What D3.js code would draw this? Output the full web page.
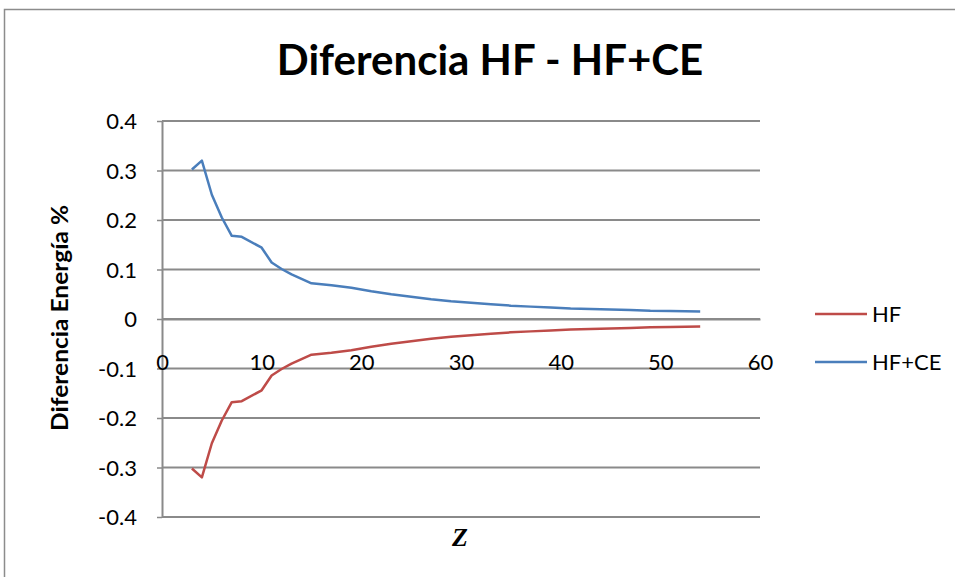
<!DOCTYPE html>
<html>
<head>
<meta charset="utf-8">
<script src="https://cdn.jsdelivr.net/npm/d3@7"></script>
<style>
  body { margin: 0; background: #fff; }
  svg { display: block; }
</style>
</head>
<body>
<div id="chart"></div>
<script>
// Atomic number Z for each point
const zValues = [3, 4, 5, 6, 7, 8, 10, 11, 12, 13, 15, 17, 19, 21, 23, 25, 27, 29, 31, 33, 35, 37, 39, 41, 43, 45, 47, 49, 51, 54];

// Energy difference (%) per series
const hfValues = [-0.302, -0.320, -0.251, -0.205, -0.168, -0.166, -0.144, -0.114, -0.101, -0.090, -0.072, -0.068, -0.063, -0.056, -0.050, -0.045, -0.040, -0.036, -0.033, -0.030, -0.027, -0.025, -0.023, -0.021, -0.020, -0.019, -0.018, -0.0165, -0.016, -0.015];
const hfceValues = [0.302, 0.320, 0.251, 0.205, 0.168, 0.166, 0.144, 0.114, 0.101, 0.090, 0.072, 0.068, 0.063, 0.056, 0.050, 0.045, 0.040, 0.036, 0.033, 0.030, 0.027, 0.025, 0.023, 0.021, 0.020, 0.019, 0.018, 0.0165, 0.016, 0.015];

const seriesNames = ["HF", "HF+CE"];
const seriesColors = ["#be4b48", "#4a7ebb"];
const xTicks = [0, 10, 20, 30, 40, 50, 60];
const yTicks = [0.4, 0.3, 0.2, 0.1, 0, -0.1, -0.2, -0.3, -0.4];
const yTickLabels = ["0.4", "0.3", "0.2", "0.1", "0", "-0.1", "-0.2", "-0.3", "-0.4"];

const width = 955, height = 577;
const plot = { left: 162, right: 760, top: 121, bottom: 517 };
const font = "Lato, 'Open Sans', sans-serif";

const svg = d3.select("#chart").append("svg")
  .attr("width", width)
  .attr("height", height);

// Outer chart border (runs off the right/bottom edges)
svg.append("rect")
  .attr("x", 4.5).attr("y", 9.5)
  .attr("width", 970).attr("height", 600)
  .attr("fill", "none")
  .attr("stroke", "#8c8c8c")
  .attr("stroke-width", 1.5);

const x = d3.scaleLinear().domain([0, 60]).range([plot.left, plot.right]);
const y = d3.scaleLinear().domain([-0.4, 0.4]).range([plot.bottom, plot.top]);

// Title
svg.append("text")
  .attr("x", 490)
  .attr("y", 75)
  .attr("text-anchor", "middle")
  .style("font-family", font)
  .style("font-weight", "bold")
  .style("font-size", "42px")
  .text("Diferencia HF - HF+CE");

// Horizontal gridlines
svg.append("g")
  .selectAll("line")
  .data(yTicks)
  .join("line")
  .attr("x1", plot.left).attr("x2", plot.right)
  .attr("y1", d => y(d)).attr("y2", d => y(d))
  .attr("stroke", "#8a8a8a")
  .attr("stroke-width", 2);

// Y axis
const yAxis = svg.append("g")
  .attr("transform", `translate(${plot.left},0)`)
  .call(d3.axisLeft(y).tickValues(yTicks).tickSize(5).tickSizeOuter(0)
    .tickFormat((d, i) => yTickLabels[i]));
yAxis.select(".domain").attr("stroke", "#8a8a8a").attr("stroke-width", 2);
yAxis.selectAll(".tick line").attr("stroke", "#8a8a8a").attr("stroke-width", 1.5);
yAxis.selectAll(".tick text")
  .attr("x", -25)
  .attr("dy", "0.35em")
  .style("font-family", font)
  .style("font-size", "22px")
  .attr("fill", "#000");

// X axis crossing at 0
const xAxis = svg.append("g")
  .attr("transform", `translate(0,${y(0)})`)
  .call(d3.axisBottom(x).tickValues(xTicks).tickSize(0).tickSizeOuter(0));
xAxis.select(".domain").attr("stroke", "#8a8a8a").attr("stroke-width", 2);
xAxis.selectAll(".tick text")
  .attr("y", 43)
  .attr("dy", "0.35em")
  .style("font-family", font)
  .style("font-size", "22px")
  .attr("fill", "#000");

// Axis titles
svg.append("text")
  .attr("transform", "rotate(-90)")
  .attr("x", -318)
  .attr("y", 68)
  .attr("text-anchor", "middle")
  .attr("textLength", 226)
  .attr("lengthAdjust", "spacingAndGlyphs")
  .style("font-family", font)
  .style("font-weight", "bold")
  .style("font-size", "22px")
  .text("Diferencia Energía %");

svg.append("text")
  .attr("x", 460)
  .attr("y", 546)
  .attr("text-anchor", "middle")
  .style("font-family", "'Liberation Serif', 'DejaVu Serif', serif")
  .style("font-weight", "bold")
  .style("font-style", "italic")
  .style("font-size", "26px")
  .text("Z");

// Series lines
const series = [hfValues, hfceValues].map((vals, i) => ({
  name: seriesNames[i],
  color: seriesColors[i],
  points: zValues.map((z, j) => ({ z, v: vals[j] }))
}));

const line = d3.line().x(d => x(d.z)).y(d => y(d.v));

svg.append("g")
  .selectAll("path")
  .data(series)
  .join("path")
  .attr("d", d => line(d.points))
  .attr("fill", "none")
  .attr("stroke", d => d.color)
  .attr("stroke-width", 2.5)
  .attr("stroke-linejoin", "round");

// Legend
const legend = svg.append("g").attr("transform", "translate(815,314)");
series.forEach((s, i) => {
  legend.append("line")
    .attr("x1", 0).attr("x2", 52)
    .attr("y1", i * 48).attr("y2", i * 48)
    .attr("stroke", s.color)
    .attr("stroke-width", 2.5);
  legend.append("text")
    .attr("x", 57)
    .attr("y", i * 48)
    .attr("dy", "0.35em")
    .style("font-family", font)
    .style("font-size", "22px")
    .text(s.name);
});
</script>
</body>
</html>
